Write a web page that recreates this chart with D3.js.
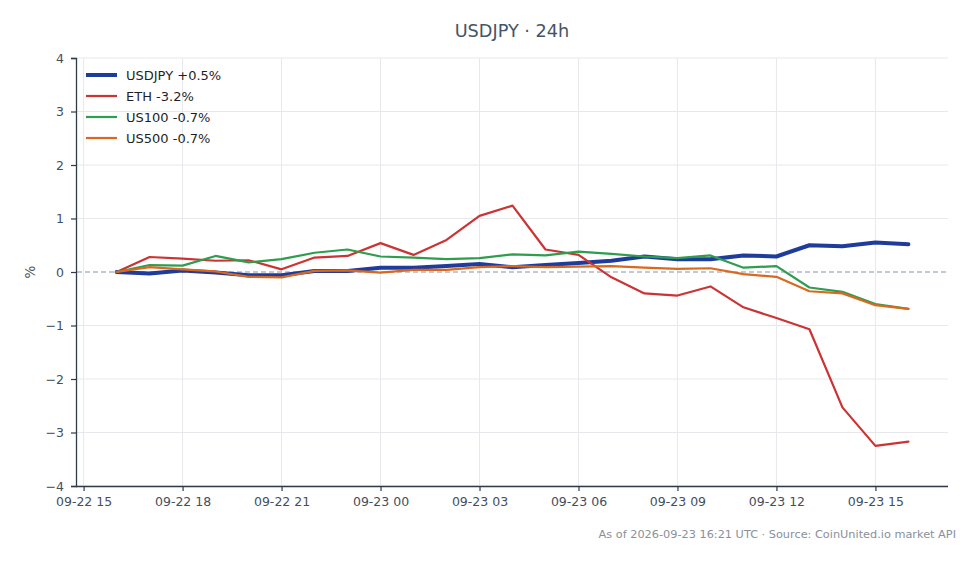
<!DOCTYPE html>
<html>
<head>
<meta charset="utf-8">
<script src="https://cdn.jsdelivr.net/npm/d3@7"></script>
<style>
  body { margin: 0; background: #fff; }
  svg { font-family: "DejaVu Sans", sans-serif; }
</style>
</head>
<body>
<svg id="chart" width="980" height="564"></svg>
<script>
// hourly closes, % change from the first hour
var times = ["2026-09-22 16:00","2026-09-22 17:00","2026-09-22 18:00","2026-09-22 19:00","2026-09-22 20:00",
  "2026-09-22 21:00","2026-09-22 22:00","2026-09-22 23:00","2026-09-23 00:00","2026-09-23 01:00",
  "2026-09-23 02:00","2026-09-23 03:00","2026-09-23 04:00","2026-09-23 05:00","2026-09-23 06:00",
  "2026-09-23 07:00","2026-09-23 08:00","2026-09-23 09:00","2026-09-23 10:00","2026-09-23 11:00",
  "2026-09-23 12:00","2026-09-23 13:00","2026-09-23 14:00","2026-09-23 15:00","2026-09-23 16:00"];

var usdjpy = [0, -0.03, 0.03, -0.01, -0.06, -0.06, 0.02, 0.02, 0.08, 0.08, 0.11, 0.15, 0.09, 0.13, 0.17,
  0.21, 0.29, 0.24, 0.24, 0.31, 0.29, 0.50, 0.48, 0.55, 0.52];
var eth = [0, 0.28, 0.25, 0.21, 0.22, 0.05, 0.27, 0.30, 0.54, 0.32, 0.60, 1.05, 1.24, 0.42, 0.32,
  -0.10, -0.40, -0.44, -0.27, -0.66, -0.86, -1.07, -2.53, -3.25, -3.17];
var us100 = [0, 0.13, 0.12, 0.30, 0.18, 0.24, 0.36, 0.42, 0.29, 0.27, 0.24, 0.26, 0.33, 0.31, 0.38,
  0.34, 0.29, 0.26, 0.31, 0.08, 0.11, -0.29, -0.37, -0.60, -0.69];
var us500 = [0, 0.09, 0.05, 0.01, -0.09, -0.10, 0.02, 0.03, -0.01, 0.04, 0.04, 0.09, 0.11, 0.09, 0.10,
  0.11, 0.08, 0.06, 0.07, -0.04, -0.09, -0.36, -0.40, -0.62, -0.69];

var names = ["USDJPY +0.5%", "ETH -3.2%", "US100 -0.7%", "US500 -0.7%"];
var yTicks = [-4, -3, -2, -1, 0, 1, 2, 3, 4];

var svg = d3.select("#chart");
// note: "top" is taken by window.top, so plot edges get their own names
var pLeft = 77, pRight = 948, pTop = 58, pBottom = 486;

var parse = d3.utcParse("%Y-%m-%d %H:%M");
var dates = times.map(parse);

var pad = 1.2 * 3600 * 1000;
var x = d3.scaleUtc()
  .domain([+dates[0] - pad, +dates[dates.length - 1] + pad])
  .range([pLeft, pRight]);
var y = d3.scaleLinear().domain([-4, 4]).range([pBottom, pTop]);

var xTicks = x.ticks(d3.utcHour.every(3));

// grid
svg.append("g").selectAll("line").data(xTicks).enter().append("line")
  .attr("x1", d => x(d)).attr("x2", d => x(d))
  .attr("y1", pTop).attr("y2", pBottom)
  .attr("stroke", "#e6e8ec").attr("stroke-width", 1);
svg.append("g").selectAll("line").data(yTicks.filter(d => d !== 0)).enter().append("line")
  .attr("x1", pLeft).attr("x2", pRight)
  .attr("y1", d => y(d)).attr("y2", d => y(d))
  .attr("stroke", "#e6e8ec").attr("stroke-width", 1);

// zero line
svg.append("line")
  .attr("x1", pLeft).attr("x2", pRight)
  .attr("y1", y(0)).attr("y2", y(0))
  .attr("stroke", "#8a95aa").attr("stroke-width", 1.2)
  .attr("stroke-dasharray", "5,3");

// axes
var xAxis = svg.append("g")
  .attr("transform", "translate(0," + pBottom + ")")
  .call(d3.axisBottom(x).tickValues(xTicks).tickFormat(d3.utcFormat("%m-%d %H")).tickSizeOuter(0).tickSize(5).tickPadding(6));
var yAxis = svg.append("g")
  .attr("transform", "translate(" + (pLeft - 1) + ",0)")
  .call(d3.axisLeft(y).tickValues(yTicks).tickFormat(d3.format("d")).tickSizeOuter(0).tickSize(5).tickPadding(7));

[xAxis, yAxis].forEach(function(a) {
  a.select(".domain").attr("stroke", "#2f3a4a").attr("stroke-width", 1.3);
  a.selectAll(".tick line").attr("stroke", "#2f3a4a").attr("stroke-width", 1.2);
  a.selectAll(".tick text").attr("fill", "#434f60").style("font-size", "12.5px")
    .style("font-family", "'DejaVu Sans', sans-serif");
});
xAxis.select(".domain").attr("d", "M" + (pLeft - 1) + ",0.5H" + pRight);

// lines
var series = [
  { name: names[0], values: usdjpy, color: "#1f3c9c", width: 4 },
  { name: names[1], values: eth, color: "#cc3333", width: 2.2 },
  { name: names[2], values: us100, color: "#2e9d4e", width: 2.2 },
  { name: names[3], values: us500, color: "#d9691f", width: 2.2 }
];

var line = d3.line().x((d, i) => x(dates[i])).y(d => y(d));

series.forEach(function(s) {
  svg.append("path")
    .datum(s.values)
    .attr("d", line)
    .attr("fill", "none")
    .attr("stroke", s.color)
    .attr("stroke-width", s.width)
    .attr("stroke-linejoin", "round")
    .attr("stroke-linecap", "round");
});

// legend
var lg = svg.append("g").attr("transform", "translate(86,75)");
series.forEach(function(s, i) {
  var row = lg.append("g").attr("transform", "translate(0," + (i * 21) + ")");
  row.append("line").attr("x1", 0).attr("x2", 31).attr("y1", 0).attr("y2", 0)
    .attr("stroke", s.color).attr("stroke-width", s.width);
  row.append("text").attr("x", 40).attr("y", 4.5)
    .style("font-size", "13px").attr("fill", "#1f1f1f").text(s.name);
});

// title, labels
svg.append("text").attr("x", 512).attr("y", 37).attr("text-anchor", "middle")
  .style("font-size", "17.7px").attr("fill", "#465466").text("USDJPY · 24h");

svg.append("text").attr("transform", "translate(35,272) rotate(-90)")
  .attr("text-anchor", "middle").style("font-size", "13.5px").attr("fill", "#434f60").text("%");

svg.append("text").attr("x", 956).attr("y", 538).attr("text-anchor", "end")
  .style("font-size", "11.3px").attr("fill", "#8a9099")
  .text("As of 2026-09-23 16:21 UTC · Source: CoinUnited.io market API");
</script>
</body>
</html>
